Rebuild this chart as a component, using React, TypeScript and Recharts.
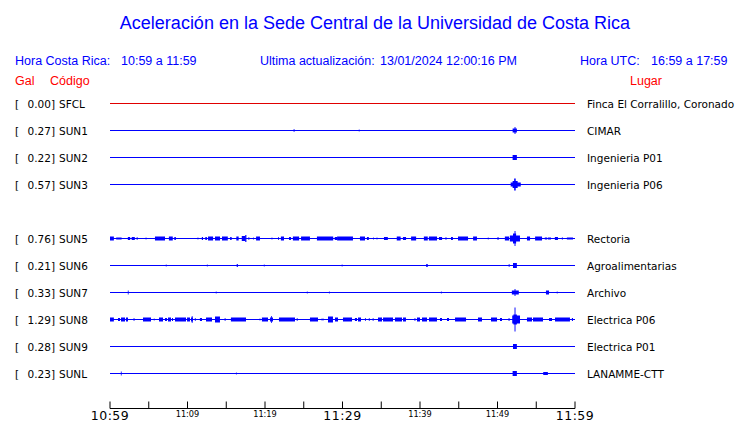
import React from "react";
import { ComposedChart, Line, XAxis, YAxis, ReferenceArea } from "recharts";

// station rows (row 4 is empty, SUN4 is not shown)
const stations = ["SFCL", "SUN1", "SUN2", "SUN3", "SUN5", "SUN6", "SUN7", "SUN8", "SUN9", "SUNL"];
const galValues = [0.0, 0.27, 0.22, 0.57, 0.76, 0.21, 0.33, 1.29, 0.28, 0.23];
const places = [
  "Finca El Corralillo, Coronado",
  "CIMAR",
  "Ingenieria P01",
  "Ingenieria P06",
  "Rectoria",
  "Agroalimentarias",
  "Archivo",
  "Electrica P06",
  "Electrica P01",
  "LANAMME-CTT",
];
const rowIndex = [0, 1, 2, 3, 5, 6, 7, 8, 9, 10];

// minutes after 10:59
const timeTicks = [0, 5, 10, 15, 20, 25, 30, 35, 40, 45, 50, 55, 60];
const timeLabels = ["10:59", "", "11:09", "", "11:19", "", "11:29", "", "11:39", "", "11:49", "", "11:59"];

// bursts on each trace: [start min, end min, half amplitude]
const burstsSFCL: number[][] = [];
const burstsSUN1 = [[23.7, 23.8, 1.5], [32.1, 32.2, 1], [51.95, 52.5, 2], [52.2, 52.32, 3.5]];
const burstsSUN2 = [[51.95, 52.5, 2.5]];
const burstsSUN3 = [[51.7, 53.0, 2], [51.95, 52.6, 3.5], [52.15, 52.35, 6]];
const burstsSUN5 = [
  [0.0, 0.5, 2], [0.8, 1.5, 1], [2.3, 2.6, 1.5], [2.8, 3.2, 1.5], [3.45, 3.55, 1.5], [4.6, 4.7, 1],
  [5.8, 7.1, 2], [7.6, 8.1, 2], [8.3, 8.5, 1.5], [11.3, 11.4, 1], [11.85, 12.0, 1.5], [12.3, 12.5, 1.5],
  [12.65, 13.3, 2], [13.55, 14.2, 2], [14.45, 15.2, 2], [15.5, 15.7, 1.5], [16.3, 16.6, 2], [17.0, 17.5, 2.5],
  [17.45, 17.6, 3.5], [17.8, 18.0, 1], [18.45, 18.55, 1], [18.85, 19.35, 2], [20.85, 20.95, 1], [21.7, 21.8, 1.5],
  [22.05, 22.45, 2], [23.1, 23.35, 1.5], [23.6, 24.4, 2], [24.65, 25.8, 2], [26.7, 28.8, 2], [29.0, 29.3, 1.5],
  [29.3, 31.35, 2], [32.25, 32.9, 2], [33.15, 33.4, 1.5], [33.95, 34.05, 1], [34.4, 34.5, 1], [35.35, 35.85, 1.5],
  [37.0, 37.5, 2], [37.8, 38.2, 1.5], [38.85, 39.5, 2], [40.5, 41.0, 2], [41.15, 42.2, 2], [42.45, 42.85, 1.5],
  [43.25, 43.45, 1], [44.0, 44.25, 1.5], [44.9, 46.2, 2], [46.85, 47.35, 2], [48.75, 48.85, 1], [49.95, 50.2, 1],
  [50.95, 51.5, 2], [51.6, 52.9, 3], [52.0, 52.4, 5], [52.2, 52.32, 7.5], [53.8, 54.2, 2], [54.85, 55.75, 2],
  [56.1, 56.4, 1], [56.5, 56.9, 1], [57.4, 57.8, 1.5], [58.3, 58.45, 1], [58.95, 59.75, 1],
];
const burstsSUN6 = [
  [7.2, 7.3, 1], [12.5, 12.6, 1], [16.35, 16.5, 1.5], [19.85, 19.95, 1], [29.9, 30.0, 1], [40.8, 41.0, 1.5],
  [51.45, 51.55, 1.5], [52.0, 52.5, 2.5],
];
const burstsSUN7 = [
  [2.3, 2.4, 2], [13.65, 13.75, 1], [25.4, 25.5, 1], [28.25, 28.35, 1], [42.7, 42.8, 1], [51.85, 52.75, 2],
  [52.2, 52.32, 3.5], [56.25, 56.65, 2], [57.65, 57.75, 1],
];
const burstsSUN8 = [
  [0.0, 0.5, 2], [1.03, 1.29, 1.5], [1.42, 1.94, 2], [2.06, 2.32, 2], [3.05, 3.15, 1.5], [4.26, 5.29, 2],
  [5.65, 5.75, 1], [6.32, 6.84, 2], [7.1, 7.35, 1.5], [7.48, 7.87, 2], [8.0, 8.13, 1.5], [8.39, 9.81, 2],
  [9.94, 10.32, 2], [10.45, 10.71, 2], [10.55, 10.65, 3.5], [10.95, 11.05, 1.5], [11.6, 11.87, 1.5],
  [12.39, 13.16, 2], [13.55, 14.19, 3], [14.8, 14.9, 1.5], [15.6, 17.55, 2], [19.3, 19.4, 1], [19.6, 20.39, 2],
  [20.65, 21.03, 2], [20.8, 20.9, 3.5], [21.8, 23.87, 2], [24.1, 24.2, 1.5], [25.8, 26.84, 2], [27.3, 27.4, 1],
  [27.45, 27.55, 1], [28.13, 28.77, 3], [29.03, 29.42, 2], [30.06, 31.23, 2], [31.6, 31.87, 1.5], [32.0, 32.39, 2],
  [32.9, 33.0, 1.5], [33.4, 33.5, 1.5], [33.9, 34.0, 1.5], [34.58, 35.1, 2], [35.23, 36.52, 2], [36.77, 37.68, 2],
  [37.81, 38.19, 2], [39.3, 39.4, 1.5], [39.61, 40.0, 2], [40.26, 40.9, 2], [41.16, 42.19, 2], [42.58, 42.84, 1.5],
  [43.48, 43.74, 1.5], [44.52, 45.94, 2], [47.48, 48.0, 2], [49.16, 49.94, 2], [50.32, 50.58, 1.5],
  [51.43, 51.55, 1.5], [51.9, 52.9, 4], [52.05, 52.5, 5], [52.2, 52.32, 12], [53.8, 54.45, 2], [54.58, 55.87, 2],
  [56.65, 57.03, 1.5], [57.42, 59.35, 2], [59.6, 59.74, 1.5],
];
const burstsSUN9 = [[52.0, 52.5, 2.5]];
const burstsSUNL = [[1.4, 1.5, 2], [16.25, 16.35, 1], [51.95, 52.5, 2.5], [55.9, 56.5, 1.5]];

const stationBursts = [
  burstsSFCL, burstsSUN1, burstsSUN2, burstsSUN3, burstsSUN5,
  burstsSUN6, burstsSUN7, burstsSUN8, burstsSUN9, burstsSUNL,
];

const BLUE = "#0000ff";
const RED = "#e00000";
const ROW_GAP = 27;
const rowValue = (r: number) => -ROW_GAP * r;

function StationTick(props: any) {
  const { y, payload } = props;
  const i = rowIndex.indexOf(Math.round(-payload.value / ROW_GAP));
  if (i < 0) return null;
  return (
    <g fontFamily="DejaVu Sans" fontSize={10.5} fill="#000">
      <text x={15} y={y + 4}>[</text>
      <text x={55} y={y + 4} textAnchor="end">{galValues[i].toFixed(2)}]</text>
      <text x={59} y={y + 4}>{stations[i]}</text>
      <text x={587} y={y + 4}>{places[i]}</text>
    </g>
  );
}

function TimeTick(props: any) {
  const { x, y, payload } = props;
  const i = timeTicks.indexOf(payload.value);
  const label = timeLabels[i];
  const big = i % 6 === 0;
  return (
    <g>
      <line x1={x} x2={x} y1={y - 7} y2={y} stroke="#000" />
      {label && (
        <text
          x={x}
          y={big ? y + 11 : y + 8}
          textAnchor="middle"
          fontFamily="DejaVu Sans"
          fontSize={big ? 12.5 : 8.2}
          letterSpacing={big ? 0.5 : 0}
          fill="#000"
        >
          {label}
        </text>
      )}
    </g>
  );
}

export default function App() {
  return (
    <div style={{ position: "absolute", left: 0, top: 0, width: 740, height: 423, background: "#fff" }}>
      <ComposedChart width={740} height={423} margin={{ top: 76.5, right: 165, bottom: 0, left: 0 }}>
        <XAxis
          type="number"
          dataKey="t"
          domain={[0, 60]}
          ticks={timeTicks}
          interval={0}
          height={14.5}
          tickSize={0}
          tickMargin={0}
          tickLine={false}
          axisLine={{ stroke: "#000" }}
          tick={<TimeTick />}
        />
        <YAxis
          type="number"
          domain={[-305, 27]}
          ticks={rowIndex.map(rowValue)}
          interval={0}
          width={110}
          axisLine={false}
          tickLine={false}
          tick={<StationTick />}
        />
        {stations.map((s, i) => (
          <Line
            key={s}
            data={[
              { t: 0, v: rowValue(rowIndex[i]) },
              { t: 60, v: rowValue(rowIndex[i]) },
            ]}
            dataKey="v"
            stroke={i === 0 ? RED : BLUE}
            strokeWidth={1}
            dot={false}
            activeDot={false}
            isAnimationActive={false}
          />
        ))}
        {stationBursts.flatMap((list, i) =>
          list.map((b, j) => (
            <ReferenceArea
              key={`${stations[i]}-${j}`}
              x1={b[0]}
              x2={b[1]}
              y1={rowValue(rowIndex[i]) - b[2]}
              y2={rowValue(rowIndex[i]) + b[2]}
              fill={BLUE}
              fillOpacity={1}
              stroke="none"
              ifOverflow="visible"
            />
          ))
        )}
      </ComposedChart>
      <svg
        width={740}
        height={423}
        style={{ position: "absolute", left: 0, top: 0, pointerEvents: "none" }}
        fontFamily="Liberation Sans"
      >
        <text x={375} y={29} textAnchor="middle" fontSize={18} fill={BLUE}>
          Aceleración en la Sede Central de la Universidad de Costa Rica
        </text>
        <g fontSize={12.5} fill={BLUE}>
          <text x={15} y={65}>Hora Costa Rica:</text>
          <text x={121} y={65}>10:59 a 11:59</text>
          <text x={260} y={65}>Ultima actualización:</text>
          <text x={380} y={65}>13/01/2024 12:00:16 PM</text>
          <text x={580} y={65}>Hora UTC:</text>
          <text x={651} y={65}>16:59 a 17:59</text>
        </g>
        <g fontSize={12.5} fill="#ff0000">
          <text x={15} y={85}>Gal</text>
          <text x={50} y={85}>Código</text>
          <text x={630} y={85}>Lugar</text>
        </g>
      </svg>
    </div>
  );
}
